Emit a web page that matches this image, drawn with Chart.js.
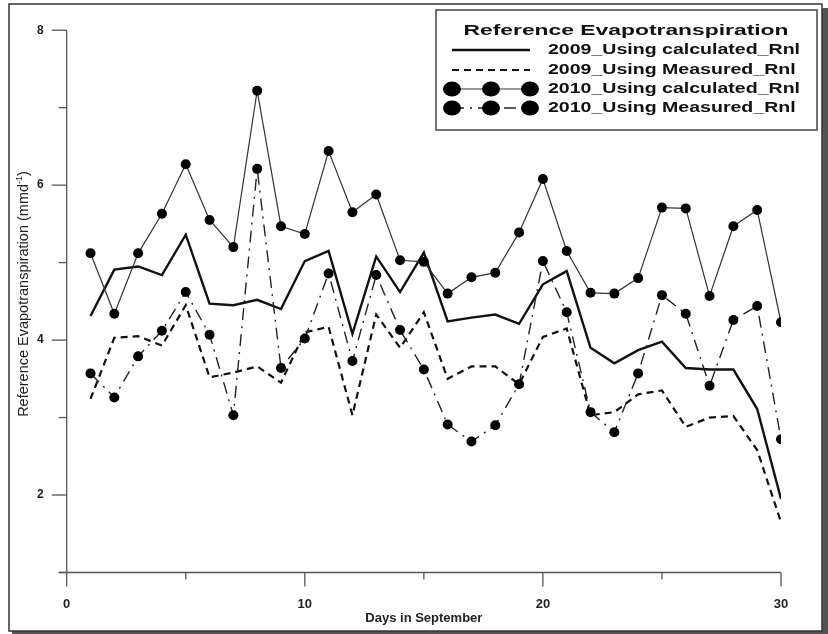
<!DOCTYPE html>
<html>
<head>
<meta charset="utf-8">
<script src="https://cdn.jsdelivr.net/npm/chart.js@4.4.1/dist/chart.umd.min.js"></script>
<style>html,body{margin:0;padding:0;background:#fff;}canvas{display:block;}</style>
</head>
<body>
<canvas id="c" width="828" height="634"></canvas>
<script>
// ---- data ----
const days = [1,2,3,4,5,6,7,8,9,10,11,12,13,14,15,16,17,18,19,20,21,22,23,24,25,26,27,28,29,30];
const et2009Calculated = [4.31,4.91,4.95,4.84,5.36,4.47,4.45,4.52,4.40,5.02,5.15,4.08,5.08,4.62,5.13,4.24,4.29,4.33,4.21,4.72,4.89,3.90,3.70,3.87,3.98,3.64,3.62,3.62,3.11,1.95];
const et2009Measured   = [3.24,4.03,4.05,3.93,4.45,3.52,3.58,3.66,3.45,4.10,4.17,3.03,4.33,3.90,4.36,3.50,3.66,3.66,3.43,4.04,4.15,3.03,3.07,3.30,3.35,2.88,3.00,3.02,2.58,1.65];
const et2010Calculated = [5.12,4.34,5.12,5.63,6.27,5.55,5.20,7.22,5.47,5.37,6.44,5.65,5.88,5.03,5.01,4.60,4.81,4.87,5.39,6.08,5.15,4.61,4.60,4.80,5.71,5.70,4.57,5.47,5.68,4.23];
const et2010Measured   = [3.57,3.26,3.79,4.12,4.62,4.07,3.03,6.21,3.64,4.02,4.86,3.73,4.84,4.13,3.62,2.91,2.69,2.90,3.43,5.02,4.36,3.07,2.81,3.57,4.58,4.34,3.41,4.26,4.44,2.72];
const seriesNames = ['2009_Using calculated_Rnl','2009_Using Measured_Rnl','2010_Using calculated_Rnl','2010_Using Measured_Rnl'];
const legendTitle = 'Reference Evapotranspiration';
const xTitle = 'Days in September';
const yTitleMain = 'Reference Evapotranspiration (mmd';
const yTitleSup = '-1';
const yTitleEnd = ')';
const xMajorTicks = [0,10,20,30];
const xMinorTicks = [5,15,25];
const yMajorTicks = [2,4,6,8];
const yMinorTicks = [1,3,5,7];

const FONT = '"Liberation Sans", Arial, sans-serif';
const pts = arr => days.map((d,i)=>({x:d, y:arr[i]}));

const axesPlugin = {
  id:'axesDraw',
  beforeDatasetsDraw(chart){
    const {ctx, scales:{x,y}} = chart;
    const x0 = x.getPixelForValue(0), xr = x.getPixelForValue(30);
    const yb = y.getPixelForValue(1), yt = y.getPixelForValue(8);
    ctx.save();
    ctx.strokeStyle = '#555'; ctx.lineWidth = 1.3;
    const ln = (a,b,c,d)=>{ctx.beginPath();ctx.moveTo(a,b);ctx.lineTo(c,d);ctx.stroke();};
    ln(x0, yt, x0, yb);
    ln(x0-8, yb, xr, yb);
    yMajorTicks.forEach(v=>{const p=y.getPixelForValue(v); ln(x0-15,p,x0,p);});
    yMinorTicks.forEach(v=>{const p=y.getPixelForValue(v); ln(x0-8,p,x0,p);});
    xMajorTicks.forEach(v=>{const p=x.getPixelForValue(v); ln(p,yb,p,yb+14);});
    xMinorTicks.forEach(v=>{const p=x.getPixelForValue(v); ln(p,yb,p,yb+7);});
    ctx.restore();
  },
  afterDraw(chart){
    const {ctx, scales:{x,y}} = chart;
    const ds = chart.data.datasets;
    ctx.save();
    // outer frame with shadow
    ctx.fillStyle = '#555';
    ctx.fillRect(822, 8, 6, 626);
    ctx.fillRect(12, 631, 816, 3);
    ctx.strokeStyle = '#333'; ctx.lineWidth = 1.5;
    ctx.strokeRect(9, 4, 813, 627);

    // axis titles
    ctx.fillStyle = '#222';
    ctx.font = 'bold 13px ' + FONT;
    ctx.textAlign = 'center'; ctx.textBaseline = 'middle';
    ctx.fillText(xTitle, (x.left + x.right)/2, 618);

    ctx.save();
    ctx.translate(28, 294);
    ctx.rotate(-Math.PI/2);
    ctx.textBaseline = 'alphabetic'; ctx.textAlign = 'left';
    ctx.font = '14.5px ' + FONT;
    const w1 = ctx.measureText(yTitleMain).width;
    const w3 = ctx.measureText(yTitleEnd).width;
    ctx.font = '9px ' + FONT;
    const w2 = ctx.measureText(yTitleSup).width;
    let sx = -(w1+w2+w3)/2;
    ctx.font = '14.5px ' + FONT;
    ctx.fillText(yTitleMain, sx, 0);
    ctx.font = '9px ' + FONT;
    ctx.fillText(yTitleSup, sx + w1, -6);
    ctx.font = '14.5px ' + FONT;
    ctx.fillText(yTitleEnd, sx + w1 + w2, 0);
    ctx.restore();

    // legend box
    const L = {x:436, y:10, w:381, h:120};
    ctx.fillStyle = '#fff';
    ctx.fillRect(L.x, L.y, L.w, L.h);
    ctx.strokeStyle = '#444'; ctx.lineWidth = 1.5;
    ctx.strokeRect(L.x, L.y, L.w, L.h);

    ctx.fillStyle = '#111';
    ctx.font = 'bold 15px ' + FONT;
    const tw = ctx.measureText(legendTitle).width;
    ctx.save();
    ctx.translate(626, 31);
    ctx.scale(325/tw, 1);
    ctx.textAlign = 'center'; ctx.textBaseline = 'middle';
    ctx.fillText(legendTitle, 0, 0);
    ctx.restore();

    ctx.font = 'bold 14px ' + FONT;
    const ew = ctx.measureText(seriesNames[0]).width;
    const esx = 252/ew;
    const rowY = [50, 70, 89, 108];
    const sampleX = [452, 491, 530];
    ds.forEach((d,i)=>{
      const ry = rowY[i];
      ctx.save();
      ctx.translate(548, ry);
      ctx.scale(esx, 1);
      ctx.textAlign = 'left'; ctx.textBaseline = 'middle';
      ctx.fillStyle = '#111';
      ctx.fillText(d.label, 0, 0);
      ctx.restore();
      // sample
      ctx.save();
      ctx.strokeStyle = d.borderColor;
      ctx.lineWidth = d.borderWidth;
      ctx.setLineDash(d.borderDash || []);
      ctx.beginPath(); ctx.moveTo(sampleX[0], ry); ctx.lineTo(sampleX[2], ry); ctx.stroke();
      ctx.setLineDash([]);
      if (d.pointRadius > 0) {
        ctx.fillStyle = '#000';
        sampleX.forEach(px=>{ctx.beginPath(); ctx.ellipse(px, ry, 9, 7.5, 0, 0, Math.PI*2); ctx.fill();});
      }
      ctx.restore();
    });
    ctx.restore();
  }
};

new Chart(document.getElementById('c'), {
  type: 'line',
  data: {
    datasets: [
      {label: seriesNames[0], data: pts(et2009Calculated), borderColor:'#111', borderWidth:2.4, pointRadius:0, tension:0, order:2},
      {label: seriesNames[1], data: pts(et2009Measured), borderColor:'#111', borderWidth:2.2, borderDash:[7,5], pointRadius:0, tension:0, order:2},
      {label: seriesNames[2], data: pts(et2010Calculated), borderColor:'#333', borderWidth:1.2, pointRadius:5, pointBackgroundColor:'#000', pointBorderColor:'#000', pointBorderWidth:0, tension:0, order:1},
      {label: seriesNames[3], data: pts(et2010Measured), borderColor:'#222', borderWidth:1.4, borderDash:[12,6,2,6], pointRadius:5, pointBackgroundColor:'#000', pointBorderColor:'#000', pointBorderWidth:0, tension:0, order:1}
    ]
  },
  options: {
    responsive:false, animation:false, devicePixelRatio:1,
    layout:{padding:{top:28, right:47, left:0, bottom:0}},
    plugins:{legend:{display:false}, tooltip:{enabled:false}, title:{display:false}},
    scales:{
      x:{type:'linear', min:0, max:30,
         afterBuildTicks: s=>{ s.ticks = xMajorTicks.map(v=>({value:v})); },
         afterFit: s=>{ s.height = 61.5; },
         ticks:{font:{family:FONT, size:13, weight:'bold'}, color:'#222', padding:24, maxRotation:0, autoSkip:false},
         grid:{display:true, drawOnChartArea:false, drawTicks:false},
         border:{display:false}},
      y:{type:'linear', min:1, max:8,
         afterBuildTicks: s=>{ s.ticks = yMajorTicks.map(v=>({value:v})); },
         afterFit: s=>{ s.width = 66.7; },
         ticks:{font:{family:FONT, size:12, weight:'bold'}, color:'#222', padding:23, autoSkip:false},
         grid:{display:true, drawOnChartArea:false, drawTicks:false},
         border:{display:false}}
    }
  },
  plugins:[axesPlugin]
});
</script>
</body>
</html>
